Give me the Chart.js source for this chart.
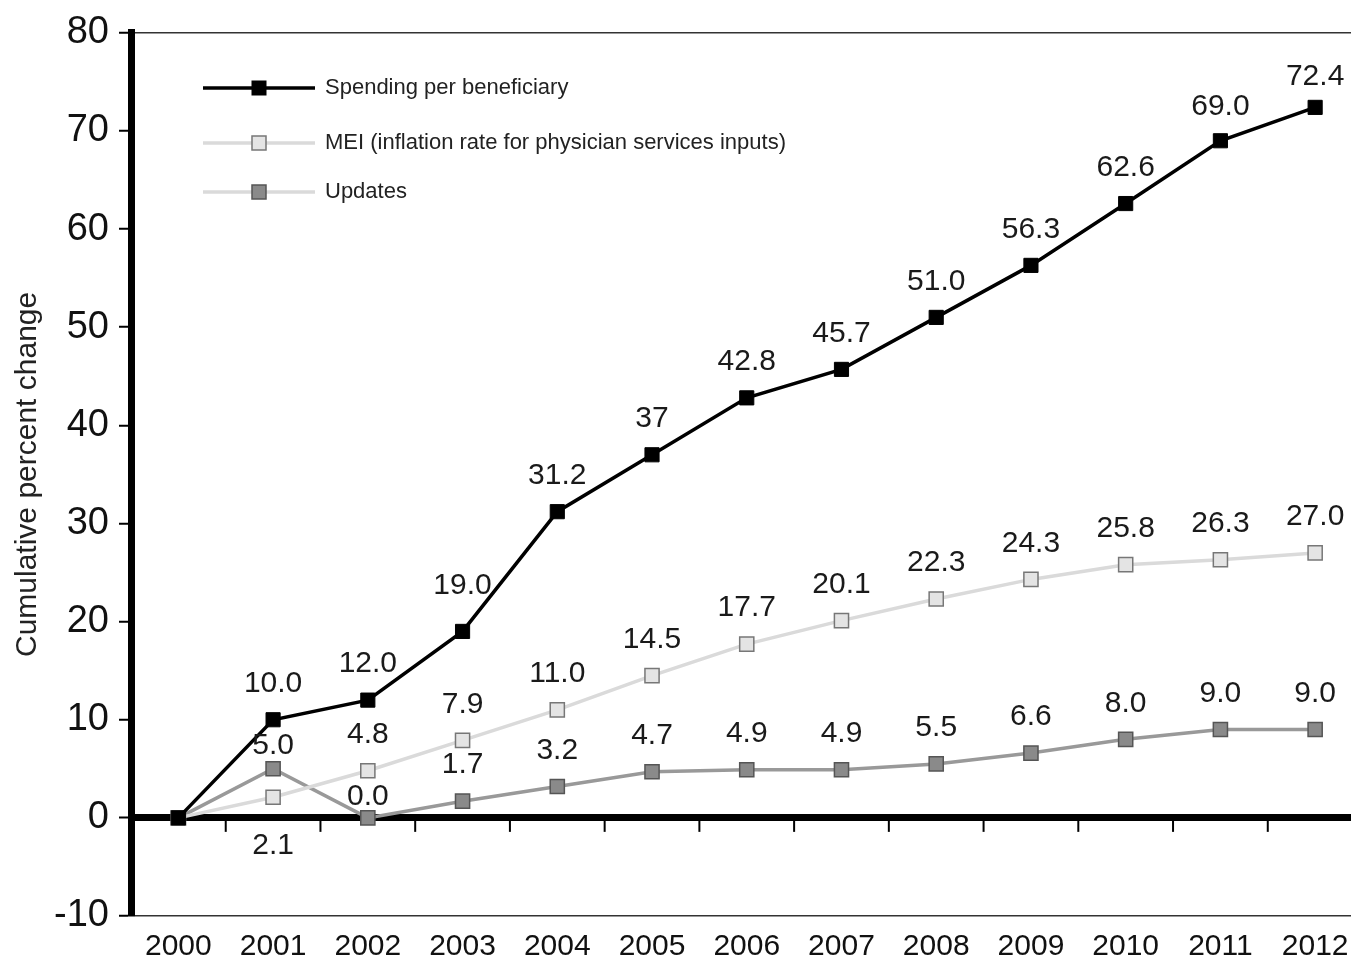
<!DOCTYPE html>
<html>
<head>
<meta charset="utf-8">
<script src="https://cdn.jsdelivr.net/npm/chart.js@4"></script>
<style>
  html,body{margin:0;padding:0;background:#fff;overflow:hidden;}
  #outer{width:1420px;height:963px;}
  #box{width:1374px;height:963px;position:relative;}
</style>
</head>
<body>
<div id="outer"><div id="box"><canvas id="chart"></canvas></div></div>
<script>
const years=['2000','2001','2002','2003','2004','2005','2006','2007','2008','2009','2010','2011','2012'];
const spending=[0,10.0,12.0,19.0,31.2,37,42.8,45.7,51.0,56.3,62.6,69.0,72.4];
const mei=[0,2.1,4.8,7.9,11.0,14.5,17.7,20.1,22.3,24.3,25.8,26.3,27.0];
const updates=[0,5.0,0.0,1.7,3.2,4.7,4.9,4.9,5.5,6.6,8.0,9.0,9.0];
const yTicks=[-10,0,10,20,30,40,50,60,70,80];

const FONT='"Liberation Sans", Arial, sans-serif';

// label text: one decimal, except the "37" written plainly in the source
const fmt=(v,i,plain)=>plain.includes(i)?String(v):v.toFixed(1);

// small per-point nudges for value labels (pixels, negative = up)
const labelShift={
  spending:{3:-46,11:-34,12:-31},
  mei:{1:48},
  updates:{1:-23,2:-21}
};

const valueLabels={
  id:'valueLabels',
  afterDatasetsDraw(chart){
    const ctx=chart.ctx;
    ctx.save();
    ctx.font='30px '+FONT;
    ctx.fillStyle='#1a1a1a';
    ctx.textAlign='center';
    ctx.textBaseline='middle';
    chart.data.datasets.forEach((ds,di)=>{
      const meta=chart.getDatasetMeta(di);
      meta.data.forEach((pt,i)=>{
        if(i===0)return;
        const shift=labelShift[ds.key][i];
        const dy=shift!==undefined?shift:-36;
        ctx.fillText(fmt(ds.data[i],i,ds.plain||[]),pt.x,pt.y+dy);
      });
    });
    ctx.restore();
  }
};

// short tick marks hanging under the zero line, at category boundaries
const zeroTicks={
  id:'zeroTicks',
  beforeDatasetsDraw(chart){
    const x=chart.scales.x,y=chart.scales.y;
    const y0=y.getPixelForValue(0);
    const ctx=chart.ctx;
    ctx.save();
    ctx.strokeStyle='#000';
    ctx.lineWidth=2;
    for(let i=0;i<years.length-1;i++){
      const px=(x.getPixelForValue(i)+x.getPixelForValue(i+1))/2;
      ctx.beginPath();
      ctx.moveTo(px,y0);
      ctx.lineTo(px,y0+14);
      ctx.stroke();
    }
    ctx.restore();
  }
};

// legend drawn inside the plot, top-left
const innerLegend={
  id:'innerLegend',
  afterDraw(chart){
    const ctx=chart.ctx;
    const rows=[88,143,192];
    ctx.save();
    chart.data.datasets.forEach((ds,i)=>{
      const yy=rows[i];
      ctx.strokeStyle=ds.legendLine||ds.borderColor;
      ctx.lineWidth=ds.borderWidth;
      ctx.beginPath();ctx.moveTo(203,yy);ctx.lineTo(315,yy);ctx.stroke();
      ctx.fillStyle=ds.pointBackgroundColor;
      ctx.strokeStyle=ds.pointBorderColor;
      ctx.lineWidth=ds.pointBorderWidth;
      ctx.fillRect(252,yy-7,14,14);
      ctx.strokeRect(252,yy-7,14,14);
      ctx.fillStyle='#222';
      ctx.font='22px '+FONT;
      ctx.textAlign='left';
      ctx.textBaseline='middle';
      ctx.fillText(ds.label,325,yy);
    });
    ctx.restore();
  }
};

new Chart(document.getElementById('chart'),{
  type:'line',
  data:{
    labels:years,
    datasets:[
      {key:'spending',label:'Spending per beneficiary',data:spending,plain:[5],
        borderColor:'#000',borderWidth:3.5,pointStyle:'rect',pointRadius:10,
        pointBackgroundColor:'#000',pointBorderColor:'#000',pointBorderWidth:1},
      {key:'mei',label:'MEI (inflation rate for physician services inputs)',data:mei,
        borderColor:'#dadada',borderWidth:3.5,pointStyle:'rect',pointRadius:10,
        pointBackgroundColor:'#e4e4e4',pointBorderColor:'#777',pointBorderWidth:1.5},
      {key:'updates',label:'Updates',data:updates,legendLine:'#dadada',
        borderColor:'#999',borderWidth:3.5,pointStyle:'rect',pointRadius:10,
        pointBackgroundColor:'#8a8a8a',pointBorderColor:'#555',pointBorderWidth:1.5}
    ]
  },
  options:{
    responsive:true,
    maintainAspectRatio:false,
    animation:false,
    layout:{padding:{top:27,right:0,left:0,bottom:0}},
    plugins:{legend:{display:false},tooltip:{enabled:false}},
    scales:{
      x:{
        offset:true,
        grid:{display:false,drawTicks:false},
        border:{display:false},
        ticks:{color:'#111',font:{family:FONT,size:30},padding:13,maxRotation:0},
        afterFit(s){s.height=47;}
      },
      y:{
        min:-10,max:80,
        afterBuildTicks(s){s.ticks=yTicks.map(v=>({value:v}));},
        border:{display:true,color:'#000',width:7},
        grid:{
          color:c=>c.tick.value===0?'#000':(c.tick.value===80||c.tick.value===-10?'#333':'rgba(0,0,0,0)'),
          lineWidth:c=>c.tick.value===0?7:1.5,
          tickColor:'#000',tickLength:12,tickWidth:2
        },
        ticks:{color:'#111',font:{family:FONT,size:38},padding:10},
        title:{display:true,text:'Cumulative percent change',color:'#222',font:{family:FONT,size:30},padding:{top:10,bottom:0}},
        afterFit(s){s.width=131;}
      }
    }
  },
  plugins:[zeroTicks,valueLabels,innerLegend]
});
</script>
</body>
</html>
